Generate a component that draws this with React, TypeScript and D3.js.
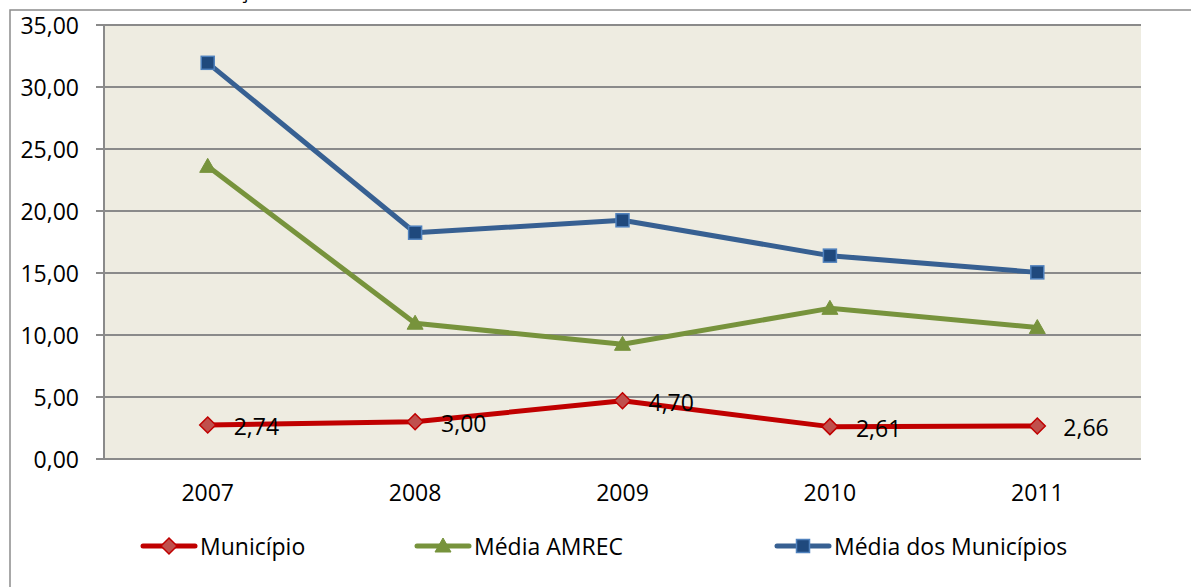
import React from "react";
import * as d3 from "d3";

const years = ["2007", "2008", "2009", "2010", "2011"];
const municipio = [2.74, 3.0, 4.7, 2.61, 2.66];
const mediaAmrec = [23.6, 10.95, 9.25, 12.15, 10.6];
const mediaMunicipios = [31.95, 18.25, 19.25, 16.4, 15.05];
const yTicks = [0, 5, 10, 15, 20, 25, 30, 35];
const seriesNames = ["Município", "Média AMREC", "Média dos Municípios"];

const W = 1191;
const H = 587;
const plot = { left: 104, right: 1141, top: 25, bottom: 459 };
const FONT = "'Open Sans', Calibri, sans-serif";
const FS = 23;

const fmt = (v: number) => v.toFixed(2).replace(".", ",");

type Marker = "diamond" | "triangle" | "square";

function MarkerShape({ type, x, y }: { type: Marker; x: number; y: number }) {
  if (type === "diamond") {
    const s = 8;
    return (
      <path
        d={`M${x},${y - s}L${x + s},${y}L${x},${y + s}L${x - s},${y}Z`}
        fill="#C0504D"
        stroke="#C00000"
        strokeWidth={1.5}
      />
    );
  }
  if (type === "triangle") {
    const s = 8;
    return (
      <path
        d={`M${x},${y - s}L${x + s},${y + s * 0.75}L${x - s},${y + s * 0.75}Z`}
        fill="#77933C"
        stroke="#77933C"
        strokeWidth={1}
      />
    );
  }
  const s = 6.5;
  return (
    <rect
      x={x - s}
      y={y - s}
      width={s * 2}
      height={s * 2}
      fill="#1F497D"
      stroke="#4F81BD"
      strokeWidth={1.5}
    />
  );
}

export default function App() {
  const x = d3.scaleBand<string>().domain(years).range([plot.left, plot.right]);
  const y = d3.scaleLinear().domain([0, 35]).range([plot.bottom, plot.top]);
  const cx = (d: string) => (x(d) as number) + x.bandwidth() / 2;

  const line = d3
    .line<number>()
    .x((_, i) => cx(years[i]))
    .y((v) => y(v));

  const series: { name: string; values: number[]; color: string; marker: Marker }[] = [
    { name: seriesNames[2], values: mediaMunicipios, color: "#376092", marker: "square" },
    { name: seriesNames[1], values: mediaAmrec, color: "#77933C", marker: "triangle" },
    { name: seriesNames[0], values: municipio, color: "#C00000", marker: "diamond" },
  ];

  const legendItems: { name: string; color: string; marker: Marker; x0: number }[] = [
    { name: seriesNames[0], color: "#C00000", marker: "diamond", x0: 143 },
    { name: seriesNames[1], color: "#77933C", marker: "triangle", x0: 417 },
    { name: seriesNames[2], color: "#376092", marker: "square", x0: 777 },
  ];
  const legendY = 546;

  return (
    <svg
      width={W}
      height={H}
      style={{ position: "absolute", left: 0, top: 0, background: "#fff" }}
      fontFamily={FONT}
    >
      <rect x={0} y={0} width={W} height={H} fill="#fff" />
      {/* clipped title fragment */}
      <text x={186} y={-2} fontSize={21} fill="#000">
        Evolução
      </text>
      {/* chart frame */}
      <rect x={10} y={10} width={1300} height={700} fill="none" stroke="#8C8C8C" strokeWidth={1.5} />

      {/* plot area */}
      <rect
        x={plot.left}
        y={plot.top}
        width={plot.right - plot.left}
        height={plot.bottom - plot.top}
        fill="#EEECE1"
      />
      {yTicks.map((t) => (
        <g key={t}>
          <line
            x1={96}
            x2={plot.right}
            y1={y(t)}
            y2={y(t)}
            stroke="#8A8A8A"
            strokeWidth={2}
          />
          <text
            x={79}
            y={y(t)}
            textAnchor="end"
            dominantBaseline="central"
            fontSize={FS}
            fill="#000"
          >
            {fmt(t)}
          </text>
        </g>
      ))}
      <line x1={plot.left} x2={plot.left} y1={plot.top} y2={plot.bottom} stroke="#8A8A8A" strokeWidth={2} />

      {years.map((yr) => (
        <text
          key={yr}
          x={cx(yr)}
          y={492}
          textAnchor="middle"
          dominantBaseline="central"
          fontSize={FS}
          fill="#000"
        >
          {yr}
        </text>
      ))}

      {series.map((s) => (
        <g key={s.name}>
          <path
            d={line(s.values) || ""}
            fill="none"
            stroke={s.color}
            strokeWidth={5}
            strokeLinejoin="round"
            strokeLinecap="round"
          />
          {s.values.map((v, i) => (
            <MarkerShape key={i} type={s.marker} x={cx(years[i])} y={y(v)} />
          ))}
        </g>
      ))}

      {municipio.map((v, i) => (
        <text
          key={i}
          x={cx(years[i]) + 26}
          y={y(v) + 1}
          dominantBaseline="central"
          fontSize={FS}
          fill="#000"
        >
          {fmt(v)}
        </text>
      ))}

      {legendItems.map((it) => (
        <g key={it.name}>
          <line
            x1={it.x0}
            x2={it.x0 + 52}
            y1={legendY}
            y2={legendY}
            stroke={it.color}
            strokeWidth={5}
            strokeLinecap="round"
          />
          <MarkerShape type={it.marker} x={it.x0 + 26} y={legendY} />
          <text
            x={it.x0 + 57}
            y={legendY}
            dominantBaseline="central"
            fontSize={FS}
            fill="#000"
          >
            {it.name}
          </text>
        </g>
      ))}
    </svg>
  );
}
